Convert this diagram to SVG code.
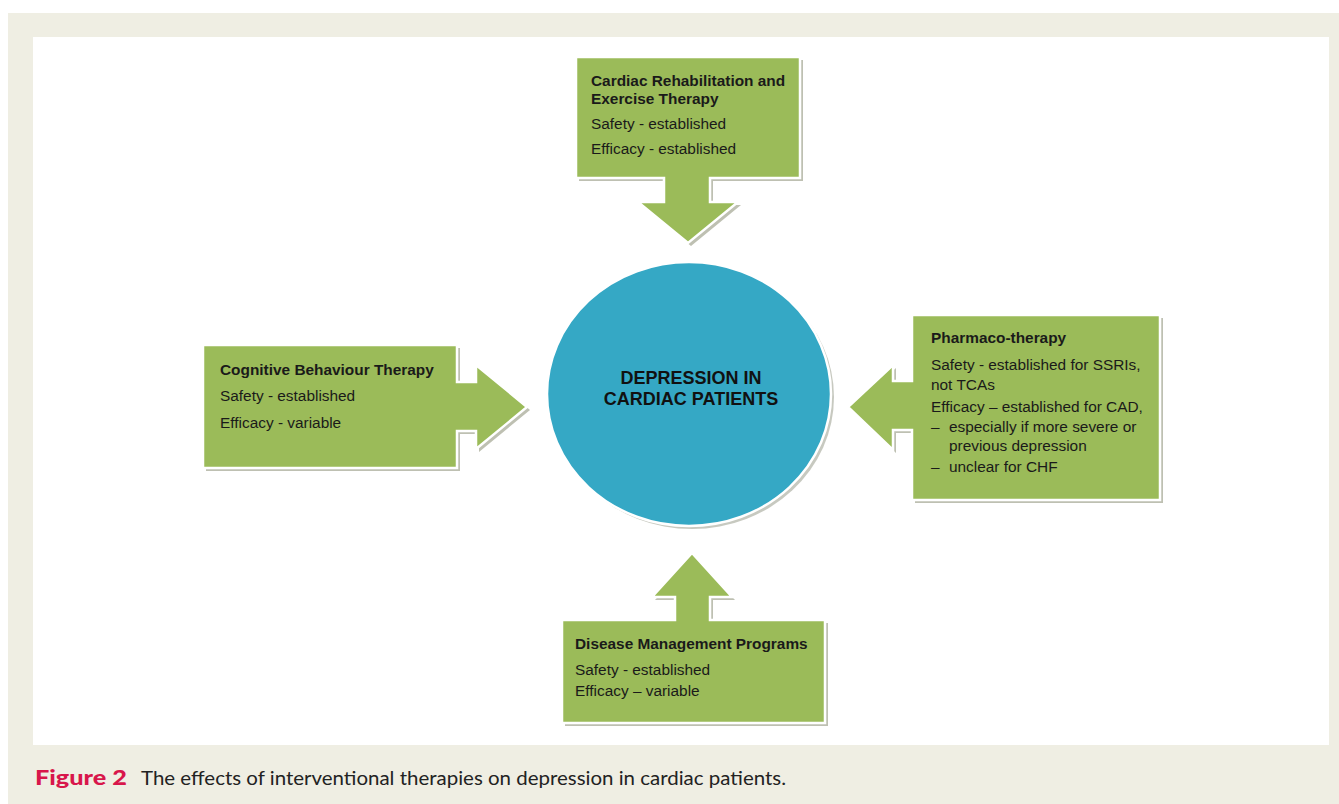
<svg xmlns="http://www.w3.org/2000/svg" width="1339" height="804" viewBox="0 0 1339 804">
<style>
.shadow{fill:#a8ab98;opacity:0.75}
.callout{fill:#9bbb59;stroke:#ffffff;stroke-width:2.5;stroke-linejoin:miter}
.t{font-family:"Liberation Sans",Arial,sans-serif;font-size:15.4px;fill:#1a1a1a}
.b{font-weight:bold}
.ct{font-family:"Liberation Sans",Arial,sans-serif;font-size:18px;font-weight:bold;fill:#111;text-anchor:middle}
</style>
<rect x="0" y="0" width="1339" height="804" fill="#ffffff"/>
<rect x="8" y="13" width="1331" height="791" fill="#efeee3"/>
<rect x="33" y="37" width="1296" height="708" fill="#ffffff"/>

<g id="connectors"></g>

<g id="center">
  <ellipse cx="692" cy="397" rx="142" ry="132" fill="#b9bbb0" opacity="0.8"/>
  <ellipse cx="689" cy="394" rx="142" ry="132" fill="#35a8c5" stroke="#ffffff" stroke-width="2.5"/>
  <text class="ct" x="691" y="384">DEPRESSION IN</text>
  <text class="ct" x="691" y="405">CARDIAC PATIENTS</text>
</g>

<g id="cardiac-rehab">
  <path class="shadow" transform="translate(3,3)" d="M576,57 H800 V178 H710 V202 H738 L688,243 L638,202 H664 V178 H576 Z"/>
  <path class="callout" d="M576,57 H800 V178 H710 V202 H738 L688,243 L638,202 H664 V178 H576 Z"/>
  <text class="t b" x="591" y="86">Cardiac Rehabilitation and</text>
  <text class="t b" x="591" y="104">Exercise Therapy</text>
  <text class="t" x="591" y="129">Safety - established</text>
  <text class="t" x="591" y="154">Efficacy - established</text>
</g>

<g id="cbt">
  <path class="shadow" transform="translate(3,3)" d="M203,345 H457 V382 H476 V365 L527,407 L476,449 V431 H457 V468 H203 Z"/>
  <path class="callout" d="M203,345 H457 V382 H476 V365 L527,407 L476,449 V431 H457 V468 H203 Z"/>
  <text class="t b" x="220" y="375">Cognitive Behaviour Therapy</text>
  <text class="t" x="220" y="401">Safety - established</text>
  <text class="t" x="220" y="428">Efficacy - variable</text>
</g>

<g id="pharmaco">
  <path class="shadow" transform="translate(3,3)" d="M912,315 H1160 V500 H912 V430 H893 V450 L848,407 L893,365 V381 H912 Z"/>
  <path class="callout" d="M912,315 H1160 V500 H912 V430 H893 V450 L848,407 L893,365 V381 H912 Z"/>
  <text class="t b" x="931" y="343">Pharmaco-therapy</text>
  <text class="t" x="931" y="370">Safety - established for SSRIs,</text>
  <text class="t" x="931" y="390">not TCAs</text>
  <text class="t" x="931" y="412">Efficacy – established for CAD,</text>
  <text class="t" x="931" y="432">–</text>
  <text class="t" x="949" y="432">especially if more severe or</text>
  <text class="t" x="949" y="451">previous depression</text>
  <text class="t" x="931" y="472">–</text>
  <text class="t" x="949" y="472">unclear for CHF</text>
</g>

<g id="disease-mgmt">
  <path class="shadow" transform="translate(3,3)" d="M562,620 H675 V597 H652 L692,553 L732,597 H710 V620 H825 V723 H562 Z"/>
  <path class="callout" d="M562,620 H675 V597 H652 L692,553 L732,597 H710 V620 H825 V723 H562 Z"/>
  <text class="t b" x="575" y="649">Disease Management Programs</text>
  <text class="t" x="575" y="675">Safety - established</text>
  <text class="t" x="575" y="696">Efficacy – variable</text>
</g>

<g id="caption">
  <text x="35" y="785" font-family="Lato,'Open Sans',sans-serif" font-size="20" font-weight="900" fill="#d8164b" textLength="92" lengthAdjust="spacingAndGlyphs">Figure 2</text>
  <text x="141" y="785" font-family="Lato,'Open Sans',sans-serif" font-size="18.5" fill="#222" textLength="645" lengthAdjust="spacingAndGlyphs">The effects of interventional therapies on depression in cardiac patients.</text>
</g>
</svg>
